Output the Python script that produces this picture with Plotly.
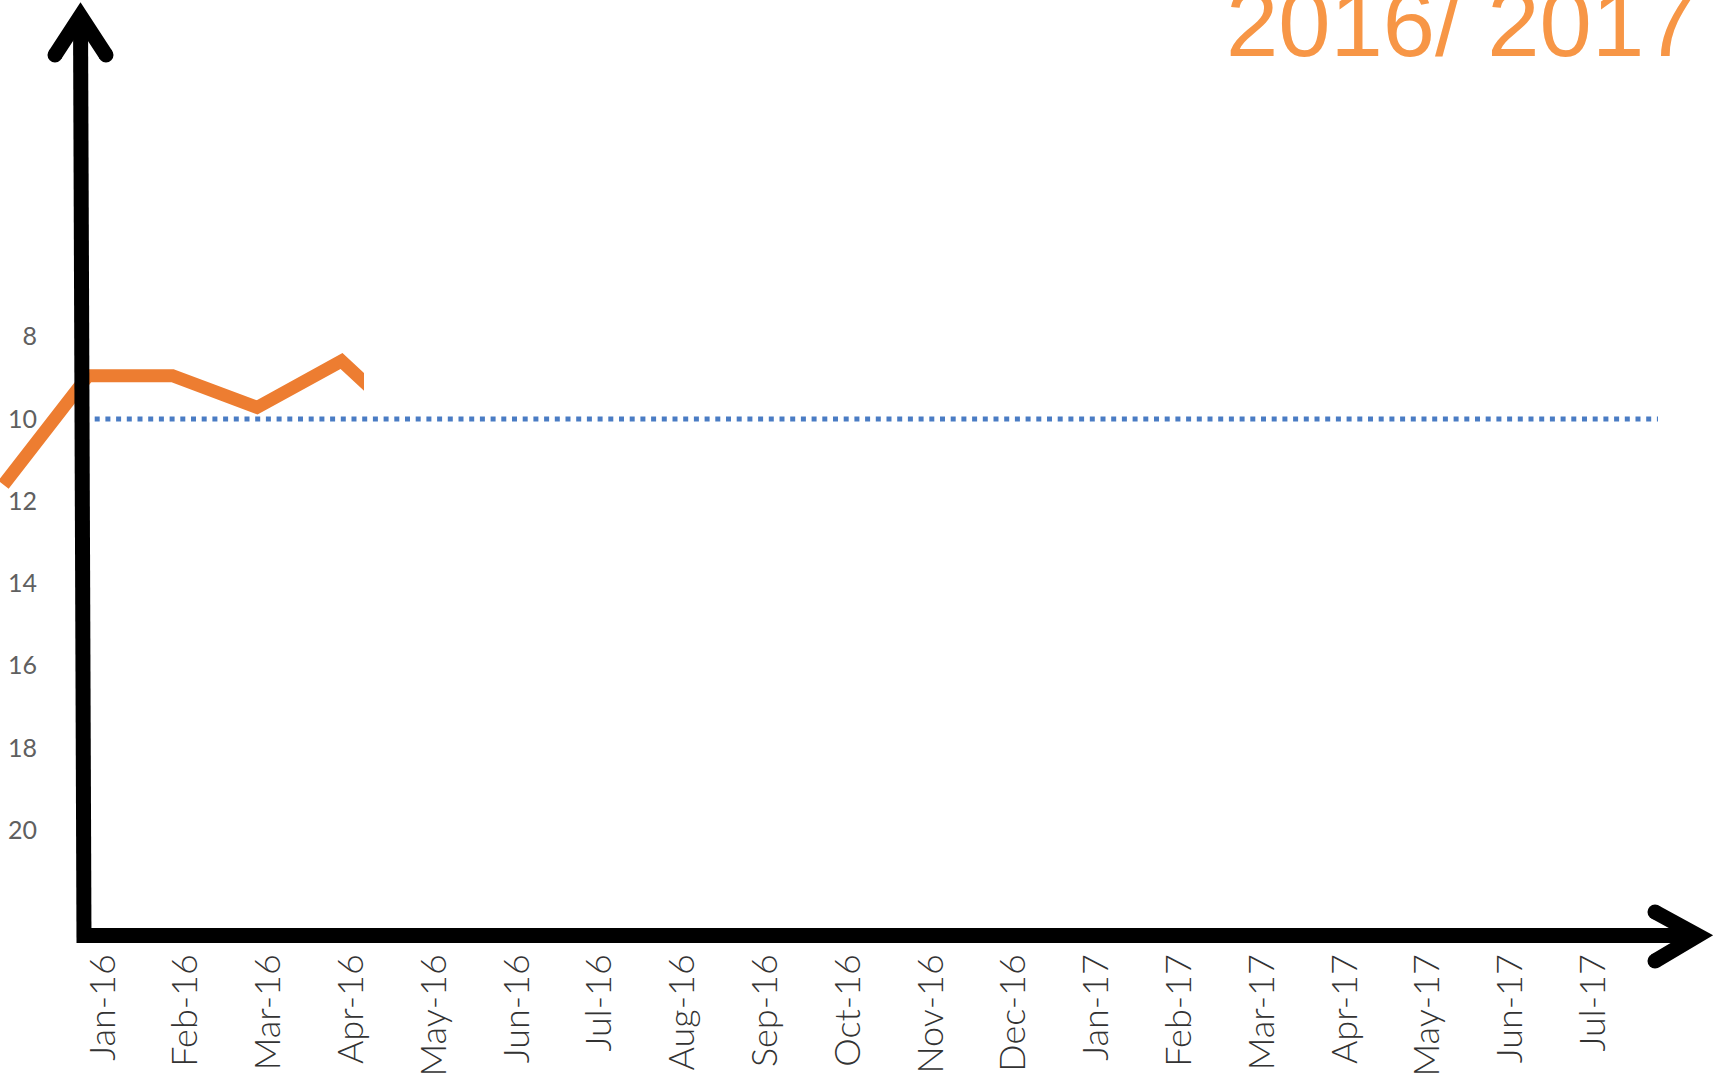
import plotly.graph_objects as go

# month labels on the category axis
months = ["Jan-16", "Feb-16", "Mar-16", "Apr-16", "May-16", "Jun-16", "Jul-16",
          "Aug-16", "Sep-16", "Oct-16", "Nov-16", "Dec-16", "Jan-17", "Feb-17",
          "Mar-17", "Apr-17", "May-17", "Jun-17", "Jul-17"]

# actual series (only partly visible in the picture)
actual_months = ["Dec-15", "Jan-16", "Feb-16", "Mar-16", "Apr-16", "May-16"]
actual_values = [11.6, 8.95, 8.95, 9.72, 8.59, 10.5]

# target line
target_value = 10
target_values = [target_value] * len(months)

y_ticks = [8, 10, 12, 14, 16, 18, 20]
title_text = "2016/ 2017"

W, H = 1719, 1081
MON = {m: i for i, m in enumerate(["Jan", "Feb", "Mar", "Apr", "May", "Jun",
                                   "Jul", "Aug", "Sep", "Oct", "Nov", "Dec"])}


def month_pos(label):
    name, yy = label.split("-")
    return (int(yy) - 16) * 12 + MON[name]


def px(x):
    return x / W


def py(y):
    return 1 - y / H


fig = go.Figure()

# carrier for the month labels axis (no visible marks)
fig.add_trace(go.Scatter(
    x=list(range(len(months))), y=[None] * len(months), xaxis="x", yaxis="y",
    mode="lines", hoverinfo="skip", showlegend=False))

# target (dotted blue)
fig.add_trace(go.Scatter(
    x=list(range(len(months))), y=target_values, xaxis="x3", yaxis="y",
    mode="lines", line=dict(color="#4a7cc4", width=5, dash="5px,5.7px"),
    hoverinfo="skip", showlegend=False))

# actual (orange), clipped by its own narrow x axis domain
fig.add_trace(go.Scatter(
    x=[month_pos(m) for m in actual_months], y=actual_values, xaxis="x2", yaxis="y",
    mode="lines", line=dict(color="#ED7D31", width=13),
    showlegend=False))

# hand drawn axes arrows
black = "black"
lw = 15
shapes = [
    dict(type="line", xref="paper", yref="paper", x0=px(80.5), y0=py(14), x1=px(84), y1=py(943),
         line=dict(color=black, width=lw)),
    dict(type="line", xref="paper", yref="paper", x0=px(77), y0=py(935.5), x1=px(1700), y1=py(935.5),
         line=dict(color=black, width=lw)),
    dict(type="path", xref="paper", yref="paper",
         path=f"M {px(55)},{py(55)} L {px(80.5)},{py(16)} L {px(106)},{py(55)}",
         line=dict(color=black, width=lw)),
    dict(type="path", xref="paper", yref="paper",
         path=f"M {px(1655)},{py(912)} L {px(1698)},{py(935.5)} L {px(1655)},{py(961)}",
         line=dict(color=black, width=lw)),
]
for cx, cy in [(55, 55), (106, 55), (1655, 912), (1655, 961)]:
    r = lw / 2
    shapes.append(dict(type="circle", xref="paper", yref="paper",
                       x0=px(cx - r), x1=px(cx + r), y0=py(cy + r), y1=py(cy - r),
                       fillcolor=black, line=dict(width=0)))

# y range chosen so 8 sits at 336.7px and 20 at 830px
k = (830 - 336.7) / 12
y_top = 8 - 336.7 / k
y_bot = 20 + (H - 830) / k

# label axis: Jan-16 at 103px, 82.8px per month
lab0, lab_step = 103, 82.8
# data axis: Jan-16 at 88px, 84.5px per month
dat0, dat_step = 88, 84.5
clip_px = 364

fig.update_layout(
    width=W, height=H,
    margin=dict(l=0, r=0, t=0, b=0),
    paper_bgcolor="white", plot_bgcolor="rgba(0,0,0,0)",
    shapes=shapes,
    xaxis=dict(domain=[0, 1], range=[-lab0 / lab_step, (W - lab0) / lab_step],
               tickvals=list(range(len(months))), ticktext=months, tickangle=-90,
               anchor="free", position=py(946), showgrid=False, zeroline=False,
               showline=False, ticks="",
               tickfont=dict(family="Lato", size=36, color="#333333", weight=300)),
    xaxis2=dict(domain=[0, px(clip_px)], range=[-dat0 / dat_step, (clip_px - dat0) / dat_step],
                anchor="y", visible=False),
    xaxis3=dict(domain=[px(84), px(1658)], range=[0, len(months) - 1],
                anchor="y", visible=False),
    yaxis=dict(domain=[0, 1], range=[y_bot, y_top], tickvals=y_ticks,
               ticktext=[str(v) for v in y_ticks],
               anchor="free", position=px(37), showgrid=False, zeroline=False,
               showline=False, ticks="",
               tickfont=dict(family="Lato", size=25, color="#606060")),
    annotations=[dict(text=title_text, xref="paper", yref="paper",
                      x=px(1698), y=py(78), xanchor="right", yanchor="bottom",
                      showarrow=False,
                      font=dict(family="Arial, Liberation Sans, sans-serif", size=94,
                                color="#F79646"))],
)

fig.write_html("out.html", config={"displayModeBar": False},
               post_script="document.body.style.margin='0px';"
                           "document.body.style.overflow='hidden';")
